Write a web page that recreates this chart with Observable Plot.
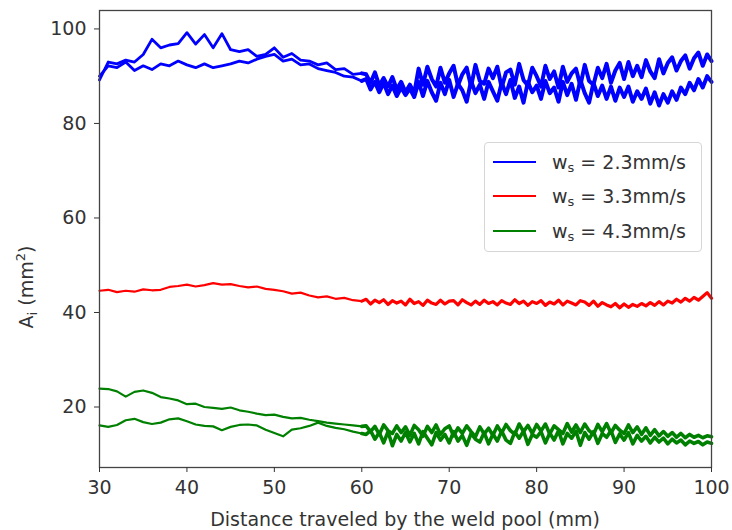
<!DOCTYPE html>
<html><head><meta charset="utf-8">
<script src="https://cdn.jsdelivr.net/npm/d3@7"></script>
<script src="https://cdn.jsdelivr.net/npm/@observablehq/plot@0.6"></script>
<style>
body{margin:0;background:#fff;}
#wrap{position:relative;width:732px;height:530px;font-family:"DejaVu Sans",sans-serif;color:#333;}
.legend{position:absolute;left:484px;top:142px;width:216px;height:108px;border:1px solid #d6d6d6;border-radius:4px;background:rgba(255,255,255,0.85);}
.legend .sw{position:absolute;left:8px;width:43px;height:2px;}
.legend .lb{position:absolute;left:67px;font-size:19px;line-height:24px;white-space:nowrap;}
.legend sub{font-size:13px;vertical-align:-3px;line-height:0;}
</style></head>
<body><div id="wrap"></div>
<script>
// sample positions (mm)
const xCoarse = [30,31,32,33,34,35,36,37,38,39,40,41,42,43,44,45,46,47,48,49,50,51,52,53,54,55,56,57,58,59,60];
const xFine = [60.5,61,61.5,62,62.5,63,63.5,64,64.5,65,
  65.5,66,66.5,67,67.5,68,68.5,69,69.5,70,
  70.5,71,71.5,72,72.5,73,73.5,74,74.5,75,
  75.5,76,76.5,77,77.5,78,78.5,79,79.5,80,
  80.5,81,81.5,82,82.5,83,83.5,84,84.5,85,
  85.5,86,86.5,87,87.5,88,88.5,89,89.5,90,
  90.5,91,91.5,92,92.5,93,93.5,94,94.5,95,
  95.5,96,96.5,97,97.5,98,98.5,99,99.5,100];

// ws = 2.3 mm/s, run 1 and run 2
const blueA = [89.2,93.0,92.6,93.4,93.0,94.6,97.8,96.0,96.6,96.9,
  99.2,96.8,98.8,96.0,99.0,95.6,95.2,95.6,94.2,94.6,
  96.0,94.0,94.8,93.4,93.2,92.4,92.8,91.4,91.6,90.4,90.6,
  90.4,88.6,90.8,88.0,89.6,87.8,89.8,87.2,88.8,86.6,
  88.2,86.4,91.6,88.2,92.0,89.4,87.8,91.8,88.6,90.6,
  92.2,88.0,90.4,91.8,87.8,92.4,89.0,88.4,91.6,89.6,
  92.0,87.6,90.8,91.4,88.2,92.6,89.2,88.0,91.8,90.0,
  87.8,92.2,89.4,91.0,87.6,92.0,88.8,90.6,91.6,88.0,
  92.4,89.0,88.2,91.8,89.6,92.6,88.6,91.2,92.8,89.4,
  93.0,90.0,92.2,89.8,93.4,91.0,89.6,93.6,90.6,92.8,
  94.0,91.2,93.2,94.4,91.6,93.8,95.0,92.2,94.6,93.2];
const blueB = [90.0,92.2,91.8,93.0,91.2,92.2,91.4,92.6,92.2,93.2,
  92.4,91.8,92.6,91.8,92.2,92.6,93.2,92.8,93.6,94.2,
  94.6,93.2,93.6,92.4,92.6,91.6,91.2,90.8,90.0,89.8,89.0,
  89.4,87.2,88.8,86.6,88.6,86.2,88.0,85.8,87.6,86.0,
  87.4,85.6,88.8,85.8,89.0,86.6,84.8,88.6,86.2,89.2,
  85.6,88.4,87.0,84.6,89.0,86.4,88.2,85.2,88.8,86.8,
  84.8,88.6,86.2,89.2,85.4,87.8,84.4,88.8,86.6,88.0,
  85.2,89.0,86.4,87.6,84.6,88.8,86.0,88.4,85.0,89.2,
  86.4,84.4,88.6,85.8,88.0,85.2,87.8,84.8,87.6,85.6,
  87.8,84.6,86.8,85.2,87.4,84.2,86.6,83.8,86.2,84.4,
  86.8,85.0,87.6,86.2,88.6,87.0,89.4,87.6,90.0,88.8];
// ws = 3.3 mm/s
const red = [44.6,44.8,44.3,44.6,44.4,44.9,44.7,44.8,45.4,45.6,
  45.9,45.5,45.8,46.2,45.9,46.0,45.6,45.3,45.5,45.0,
  44.8,44.5,44.0,44.2,43.6,43.2,43.4,42.9,43.1,42.6,42.4,
  42.8,41.8,42.6,42.1,42.7,41.7,42.5,42.0,42.4,41.6,
  42.8,41.9,42.3,41.5,42.6,42.0,41.7,42.6,41.8,42.4,
  42.5,41.6,42.7,42.1,41.6,42.4,41.7,42.6,41.9,42.3,
  41.6,42.5,42.0,41.7,42.7,41.9,42.4,41.5,42.3,41.9,
  42.5,41.5,42.2,41.8,42.6,41.6,42.4,42.0,41.6,42.5,
  42.2,41.5,42.4,41.3,42.1,41.6,41.2,41.9,41.0,41.8,
  41.1,41.7,41.3,41.9,41.4,42.1,41.5,42.3,41.6,42.4,
  42.0,42.8,42.2,43.0,42.4,43.2,42.6,43.4,44.2,43.0];
// ws = 4.3 mm/s, run 1 and run 2
const greenA = [23.9,23.8,23.3,22.2,23.2,23.5,23.0,22.1,21.8,21.4,
  20.6,20.7,20.0,19.8,19.6,19.9,19.3,19.0,18.6,18.3,
  18.4,17.9,17.6,17.7,17.3,17.0,16.7,16.5,16.3,16.1,15.9,
  16.0,14.8,15.9,14.2,16.2,15.0,14.4,16.0,14.6,15.8,
  14.0,16.1,15.2,13.8,15.9,14.6,16.2,14.2,15.4,16.0,
  13.9,15.6,14.4,16.0,14.8,13.7,15.8,14.3,15.5,14.0,
  16.0,14.5,16.3,15.0,14.2,16.4,14.8,16.1,14.4,16.3,
  14.9,16.4,14.3,16.0,15.2,14.4,16.5,14.7,16.2,14.6,
  16.4,15.0,14.2,16.3,14.8,16.5,14.5,16.1,15.1,14.4,
  16.2,14.6,15.8,14.2,15.6,14.0,15.2,13.9,14.8,13.8,
  14.6,13.6,14.4,13.5,14.2,13.6,14.0,13.5,13.9,13.7];
const greenB = [16.1,15.8,16.2,17.2,17.5,16.8,16.4,16.7,17.4,17.6,
  17.0,16.3,16.0,15.9,15.1,15.8,16.2,16.3,16.1,15.2,
  14.5,13.8,15.2,15.5,16.0,16.7,16.0,15.6,15.3,14.8,14.4,
  14.2,15.0,13.2,14.6,12.4,14.8,11.8,14.2,12.8,14.6,
  12.6,14.4,12.2,14.8,13.4,12.0,14.6,13.0,14.2,12.4,
  14.8,12.8,14.0,11.9,14.4,13.2,12.6,14.6,12.2,14.3,
  12.8,14.9,13.0,12.3,14.7,13.4,14.9,12.1,14.2,13.6,
  14.8,12.4,14.5,13.0,15.0,12.2,14.4,13.4,14.9,11.9,
  14.6,13.2,14.8,12.3,14.4,13.6,15.0,12.5,14.3,13.0,
  14.6,12.2,14.0,12.8,13.8,12.4,13.6,12.6,13.4,12.2,
  13.2,12.4,13.0,12.0,12.8,12.3,12.7,12.0,12.6,12.3];

const xTicks = [30,40,50,60,70,80,90,100];
const yTicks = [20,40,60,80,100];
const legendLabels = ["= 2.3mm/s","= 3.3mm/s","= 4.3mm/s"];
const colors = ["#0000ff","#ff0000","#008000"];
const xLabel = "Distance traveled by the weld pool (mm)";

const xs = xCoarse.concat(xFine);
const nC = xCoarse.length;
const toRows = ys => xs.map((x,i)=>({x, y: ys[i]}));
// coarse part (30–60) and dense part (60–100) of one run, drawn with different widths
const runMarks = (ys, color, wCoarse, wFine) => {
  const rows = toRows(ys);
  return [
    Plot.line(rows.slice(0, nC), {x:"x", y:"y", stroke: color, strokeWidth: wCoarse}),
    Plot.line(rows.slice(nC - 1), {x:"x", y:"y", stroke: color, strokeWidth: wFine, strokeLinejoin: "round"})
  ];
};

const chart = Plot.plot({
  width: 732, height: 530,
  marginLeft: 99, marginRight: 21, marginTop: 10, marginBottom: 63,
  style: {fontFamily: "DejaVu Sans, sans-serif", fontSize: "19px", color: "#333", background: "transparent"},
  x: {domain: [30,100]},
  y: {domain: [7.2,103.9]},
  marks: [
    ...runMarks(blueA, colors[0], 2.8, 4.0),
    ...runMarks(blueB, colors[0], 2.8, 4.0),
    ...runMarks(red, colors[1], 2.2, 3.2),
    ...runMarks(greenA, colors[2], 2.2, 3.6),
    ...runMarks(greenB, colors[2], 2.2, 3.6),
    Plot.frame({stroke: "#444", strokeWidth: 1.3}),
    Plot.axisX({ticks: xTicks, tickSize: 5, tickPadding: 8, label: null, tickFormat: d => String(d)}),
    Plot.axisY({ticks: yTicks, tickSize: 5, tickPadding: 8, label: null, tickFormat: d => String(d)})
  ]
});
const wrap = document.getElementById("wrap");
wrap.appendChild(chart);

const svg = d3.select(chart);
svg.append("text").attr("x", 405).attr("y", 526).attr("text-anchor","middle")
  .attr("font-size", 19).attr("fill", "#333").text(xLabel);
const yl = svg.append("text").attr("transform","translate(33,287) rotate(-90)")
  .attr("font-size", 19).attr("fill", "#333");
yl.append("tspan").text("A");
yl.append("tspan").attr("font-size", 13).attr("dy", 4).text("i");
yl.append("tspan").attr("dy", -4).text(" (mm");
yl.append("tspan").attr("font-size", 13).attr("dy", -8).text("2");
yl.append("tspan").attr("dy", 8).text(")");

const lg = document.createElement("div");
lg.className = "legend";
const centers = [19, 53, 88];
legendLabels.forEach((t,i)=>{
  const sw = document.createElement("div");
  sw.className = "sw"; sw.style.top = (centers[i]-1)+"px"; sw.style.background = colors[i];
  lg.appendChild(sw);
  const lb = document.createElement("div");
  lb.className = "lb"; lb.style.top = (centers[i]-12)+"px";
  lb.innerHTML = "w<sub>s</sub> " + t;
  lg.appendChild(lb);
});
wrap.appendChild(lg);
</script>
</body></html>
